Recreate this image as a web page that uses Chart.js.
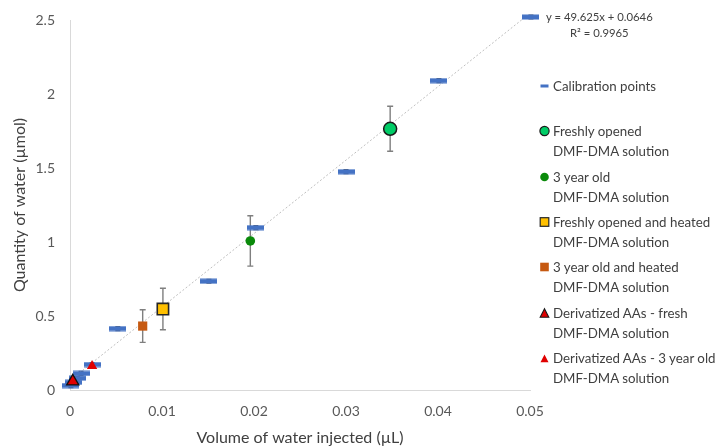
<!DOCTYPE html>
<html>
<head>
<meta charset="utf-8">
<script src="https://cdn.jsdelivr.net/npm/chart.js@4/dist/chart.umd.min.js"></script>
<style>
  html, body { margin: 0; padding: 0; background: #ffffff; }
  #wrap { position: relative; width: 719px; height: 447px; font-family: Lato, "Open Sans", sans-serif; color: #404040; }
  #c { position: absolute; left: 0; top: 0; }
  .leg { position: absolute; left: 539px; font-size: 13.3px; line-height: 20px; white-space: nowrap; }
  .leg svg { position: absolute; left: 0; top: 4px; }
  .leg span { display: block; padding-left: 14px; }
  #eq { position: absolute; left: 546px; top: 9px; font-size: 11.3px; line-height: 16px; color: #404040; text-align: center; }
</style>
</head>
<body>
<div id="wrap">
  <canvas id="c" width="719" height="447"></canvas>
  <div id="eq">y = 49.625x + 0.0646<br>R² = 0.9965</div>
  <div class="leg" style="top:76px"><svg width="12" height="12"><rect x="1.5" y="4.5" width="8" height="3" fill="#4472C4"/></svg><span>Calibration points</span></div>
  <div class="leg" style="top:121px"><svg width="12" height="12"><circle cx="5.5" cy="6" r="4.6" fill="#00CC66" stroke="#1a1a1a" stroke-width="1.2"/></svg><span>Freshly opened</span><span>DMF-DMA solution</span></div>
  <div class="leg" style="top:167px"><svg width="12" height="12"><circle cx="5.5" cy="6" r="4.3" fill="#0A8A0A"/></svg><span>3 year old</span><span>DMF-DMA solution</span></div>
  <div class="leg" style="top:212px"><svg width="12" height="12"><rect x="1.2" y="1.7" width="8.6" height="8.6" fill="#FFC000" stroke="#262626" stroke-width="1.2"/></svg><span>Freshly opened and heated</span><span>DMF-DMA solution</span></div>
  <div class="leg" style="top:257px"><svg width="12" height="12"><rect x="1.2" y="1.7" width="8.6" height="8.6" fill="#C65911"/></svg><span>3 year old and heated</span><span>DMF-DMA solution</span></div>
  <div class="leg" style="top:303px"><svg width="12" height="12"><polygon points="5.5,1.8 9.8,10.3 1.2,10.3" fill="#E00000" stroke="#1a1a1a" stroke-width="1.1"/></svg><span>Derivatized AAs - fresh</span><span>DMF-DMA solution</span></div>
  <div class="leg" style="top:348px"><svg width="12" height="12"><polygon points="5.5,2.5 9.5,10.3 1.5,10.3" fill="#E00000"/></svg><span>Derivatized AAs - 3 year old</span><span>DMF-DMA solution</span></div>
</div>
<script>
// ---- data ----
const xTicks = [0, 0.01, 0.02, 0.03, 0.04, 0.05];
const yTicks = [0, 0.5, 1, 1.5, 2, 2.5];

const calX   = [0.0501, 0.0401, 0.0300, 0.0202, 0.0151, 0.0052, 0.0024, 0.0012, 0.0008, 0.0004, 0.0001];
const calY   = [2.52, 2.09, 1.475, 1.097, 0.735, 0.415, 0.172, 0.112, 0.080, 0.052, 0.030];
const calErr = [0.012, 0.012, 0.012, 0.012, 0.012, 0.012, 0.012, 0.012, 0.012, 0.012, 0.012];

const freshX = [0.0348];  const freshY = [1.765];  const freshErr = [0.152];
const oldX   = [0.0196];  const oldY   = [1.007];  const oldErr   = [0.17];
const freshHeatX = [0.0101]; const freshHeatY = [0.547]; const freshHeatErr = [0.14];
const oldHeatX   = [0.0079]; const oldHeatY   = [0.432]; const oldHeatErr   = [0.11];
const aaFreshX = [0.0003]; const aaFreshY = [0.058];
const aaOldX   = [0.0024]; const aaOldY   = [0.163];

const trendSlope = 49.625;
const trendIntercept = 0.0646;
const trendX = [0, 0.0495];

// ---- helpers ----
const pts = (xs, ys) => xs.map((x, i) => ({ x: x, y: ys[i] }));

const dash = document.createElement('canvas');
dash.width = 17; dash.height = 6;
(function () {
  const g = dash.getContext('2d');
  g.fillStyle = '#4472C4';
  g.fillRect(0, 0.5, 17, 5);
})();

const errorBars = {
  id: 'errorBars',
  beforeDatasetsDraw(chart) {
    const ctx = chart.ctx;
    const ys = chart.scales.y;
    ctx.save();
    chart.data.datasets.forEach((ds, di) => {
      if (!ds.yErr) return;
      const meta = chart.getDatasetMeta(di);
      meta.data.forEach((el, i) => {
        const e = ds.yErr[i];
        const v = ds.data[i].y;
        const top = ys.getPixelForValue(v + e);
        const bot = ys.getPixelForValue(v - e);
        const x = el.x;
        const cap = ds.errCap || 3;
        ctx.strokeStyle = ds.errColor || '#7F7F7F';
        ctx.lineWidth = ds.errWidth || 1.4;
        ctx.beginPath();
        ctx.moveTo(x, top); ctx.lineTo(x, bot);
        ctx.moveTo(x - cap, top); ctx.lineTo(x + cap, top);
        ctx.moveTo(x - cap, bot); ctx.lineTo(x + cap, bot);
        ctx.stroke();
      });
    });
    ctx.restore();
  }
};

const tickFont = { family: 'Lato, "Open Sans", sans-serif', size: 14 };
const titleFont = { family: 'Lato, "Open Sans", sans-serif', size: 16 };

new Chart(document.getElementById('c'), {
  type: 'scatter',
  data: {
    datasets: [
      {
        label: 'Trendline', type: 'line',
        data: pts(trendX, trendX.map(x => trendSlope * x + trendIntercept)),
        borderColor: '#BFBFBF', borderWidth: 1, borderDash: [2, 2],
        pointRadius: 0, fill: false, order: 10, clip: false
      },
      {
        label: 'Calibration points', data: pts(calX, calY), yErr: calErr,
        errColor: '#595959', errWidth: 1.6, errCap: 2.5,
        pointStyle: dash, order: 6, clip: false
      },
      {
        label: 'Freshly opened DMF-DMA solution', data: pts(freshX, freshY), yErr: freshErr,
        pointStyle: 'circle', pointRadius: 6.5, backgroundColor: '#00CC66',
        borderColor: '#1a1a1a', borderWidth: 1.5, order: 1
      },
      {
        label: '3 year old DMF-DMA solution', data: pts(oldX, oldY), yErr: oldErr,
        pointStyle: 'circle', pointRadius: 4.8, backgroundColor: '#0A8A0A',
        borderColor: '#0A8A0A', borderWidth: 0, order: 2
      },
      {
        label: 'Freshly opened and heated DMF-DMA solution', data: pts(freshHeatX, freshHeatY), yErr: freshHeatErr,
        pointStyle: 'rect', pointRadius: 8, backgroundColor: '#FFC000',
        borderColor: '#262626', borderWidth: 1.6, order: 3
      },
      {
        label: '3 year old and heated DMF-DMA solution', data: pts(oldHeatX, oldHeatY), yErr: oldHeatErr,
        pointStyle: 'rect', pointRadius: 6.5, backgroundColor: '#C65911',
        borderColor: '#C65911', borderWidth: 0, order: 4
      },
      {
        label: 'Derivatized AAs - fresh DMF-DMA solution', data: pts(aaFreshX, aaFreshY),
        pointStyle: 'triangle', pointRadius: 7, backgroundColor: '#E00000',
        borderColor: '#111111', borderWidth: 1.3, order: 0, clip: false
      },
      {
        label: 'Derivatized AAs - 3 year old DMF-DMA solution', data: pts(aaOldX, aaOldY),
        pointStyle: 'triangle', pointRadius: 6, backgroundColor: '#E00000',
        borderColor: '#E00000', borderWidth: 0, order: 0
      }
    ]
  },
  options: {
    responsive: false,
    animation: false,
    layout: { padding: { top: 20, right: 189, left: 0, bottom: 0 } },
    plugins: {
      legend: { display: false },
      tooltip: { enabled: false }
    },
    scales: {
      x: {
        type: 'linear', min: 0, max: 0.05,
        afterBuildTicks(s) { s.ticks = xTicks.map(v => ({ value: v })); },
        afterFit(s) { s.height = 57; },
        grid: { display: false },
        border: { display: true, color: '#D9D9D9', width: 1 },
        ticks: { color: '#595959', font: tickFont, padding: 5, maxRotation: 0, callback: v => String(v) },
        title: { display: true, text: 'Volume of water injected (µL)', color: '#404040', font: titleFont, padding: { top: 4, bottom: 0 } }
      },
      y: {
        type: 'linear', min: 0, max: 2.5,
        afterBuildTicks(s) { s.ticks = yTicks.map(v => ({ value: v })); },
        afterFit(s) { s.width = 70; },
        grid: { display: false },
        border: { display: true, color: '#D9D9D9', width: 1 },
        ticks: { color: '#595959', font: tickFont, padding: 7, callback: v => String(v) },
        title: { display: true, text: 'Quantity of water (µmol)', color: '#404040', font: titleFont, padding: { top: 10, bottom: 0 } }
      }
    }
  },
  plugins: [errorBars]
});
</script>
</body>
</html>
